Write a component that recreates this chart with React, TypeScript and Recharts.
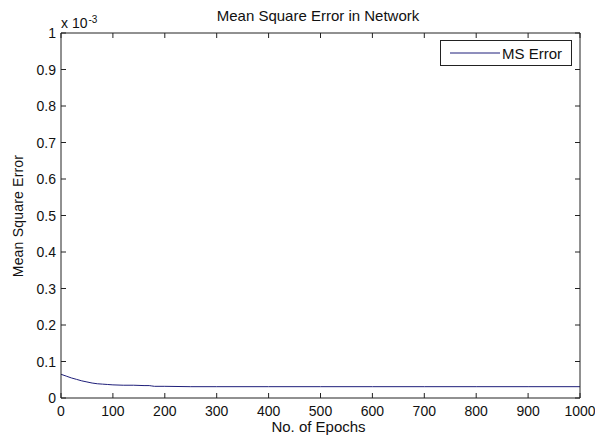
import React from 'react';
import { LineChart, Line, XAxis, YAxis, Legend } from 'recharts';

const epochs = [0, 10, 20, 30, 40, 50, 60, 70, 80, 90, 100, 120, 140, 160, 170, 175, 180, 200, 250, 300, 400, 500, 600, 700, 800, 900, 1000];
const mseValues = [0.065, 0.06, 0.055, 0.051, 0.047, 0.044, 0.041, 0.039, 0.038, 0.037, 0.036, 0.035, 0.035, 0.034, 0.034, 0.033, 0.032, 0.032, 0.031, 0.031, 0.031, 0.031, 0.031, 0.031, 0.031, 0.031, 0.031];
const xTicks = [0, 100, 200, 300, 400, 500, 600, 700, 800, 900, 1000];
const yTicks = [0, 0.1, 0.2, 0.3, 0.4, 0.5, 0.6, 0.7, 0.8, 0.9, 1];
const seriesName = 'MS Error';

const data = epochs.map((e, i) => ({ epoch: e, mse: mseValues[i] }));

const FONT = 'Arial, "Liberation Sans", Helvetica, sans-serif';
const AXIS = '#222';
const LINE = '#1f1f7a';
const TXT = '#111';

const BottomTick = (p: any) => (
  <g>
    <line x1={p.x} y1={p.y} x2={p.x} y2={p.y - 5} stroke={AXIS} />
    <text x={p.x} y={p.y + 18} textAnchor="middle" fontSize={14} fontFamily={FONT} fill={TXT}>
      {p.payload.value}
    </text>
  </g>
);
const TopTick = (p: any) => <line x1={p.x} y1={33} x2={p.x} y2={38} stroke={AXIS} />;
const LeftTick = (p: any) => (
  <g>
    <line x1={p.x} y1={p.y} x2={p.x + 5} y2={p.y} stroke={AXIS} />
    <text x={p.x - 5} y={p.y + 5} textAnchor="end" fontSize={14} fontFamily={FONT} fill={TXT}>
      {p.payload.value}
    </text>
  </g>
);
const RightTick = (p: any) => <line x1={580} y1={p.y} x2={575} y2={p.y} stroke={AXIS} />;

const LegendBox = () => (
  <div
    style={{
      border: '1px solid #222',
      width: 132,
      height: 26,
      background: '#fff',
      display: 'flex',
      alignItems: 'center',
      boxSizing: 'border-box',
      fontFamily: FONT,
      fontSize: 15,
      color: TXT,
    }}
  >
    <svg width={61} height={24} style={{ display: 'block' }}>
      <line x1={9} y1={12} x2={59} y2={12} stroke={LINE} strokeWidth={1} />
    </svg>
    <span style={{ lineHeight: '17px' }}>{seriesName}</span>
  </div>
);

export default function App() {
  return (
    <div style={{ position: 'absolute', left: 0, top: 0, width: 595, height: 439, background: '#fff', fontFamily: FONT }}>
      <LineChart width={595} height={439} data={data} margin={{ top: 32, right: 14, bottom: 0, left: 0 }}>
        <XAxis
          xAxisId="b"
          dataKey="epoch"
          type="number"
          domain={[0, 1000]}
          ticks={xTicks}
          height={41}
          stroke={AXIS}
          tickSize={0}
          tickMargin={0}
          tickLine={false}
          tick={BottomTick}
          interval={0}
        />
        <XAxis
          xAxisId="t"
          dataKey="epoch"
          orientation="top"
          type="number"
          domain={[0, 1000]}
          ticks={xTicks}
          height={1}
          stroke={AXIS}
          tickSize={0}
          tickMargin={0}
          tickLine={false}
          tick={TopTick}
          interval={0}
        />
        <YAxis
          yAxisId="l"
          type="number"
          domain={[0, 1]}
          ticks={yTicks}
          width={61}
          stroke={AXIS}
          tickSize={0}
          tickMargin={0}
          tickLine={false}
          tick={LeftTick}
          interval={0}
        />
        <YAxis
          yAxisId="r"
          orientation="right"
          type="number"
          domain={[0, 1]}
          ticks={yTicks}
          width={1}
          stroke={AXIS}
          tickSize={0}
          tickMargin={0}
          tickLine={false}
          tick={RightTick}
          interval={0}
        />
        <Legend
          layout="horizontal"
          verticalAlign="middle"
          align="center"
          wrapperStyle={{ left: 440, top: 40, width: 133 }}
          content={() => <LegendBox />}
        />
        <Line
          xAxisId="b"
          yAxisId="l"
          type="linear"
          dataKey="mse"
          name={seriesName}
          stroke={LINE}
          strokeWidth={1}
          dot={false}
          isAnimationActive={false}
        />
        <Line
          xAxisId="t"
          yAxisId="r"
          type="linear"
          dataKey="mse"
          stroke="none"
          strokeWidth={0}
          dot={false}
          activeDot={false}
          legendType="none"
          isAnimationActive={false}
        />
      </LineChart>
      <div style={{ position: 'absolute', left: 0, width: 636, top: 7, textAlign: 'center', fontSize: 15, color: TXT, lineHeight: '17px', whiteSpace: 'nowrap' }}>
        Mean Square Error in Network
      </div>
      <div style={{ position: 'absolute', left: 61, top: 11, fontSize: 14, color: TXT, lineHeight: '16px', whiteSpace: 'nowrap' }}>
        x 10<sup style={{ fontSize: 10, position: 'relative', top: 1, marginLeft: 1 }}>-3</sup>
      </div>
      <div style={{ position: 'absolute', left: 0, width: 637, top: 418, textAlign: 'center', fontSize: 15, color: TXT, lineHeight: '17px', whiteSpace: 'nowrap' }}>
        No. of Epochs
      </div>
      <div
        style={{
          position: 'absolute',
          left: 18,
          top: 216,
          transform: 'translate(-50%, -50%) rotate(-90deg)',
          whiteSpace: 'nowrap',
          fontSize: 14,
          letterSpacing: 0.2,
          color: TXT,
          lineHeight: '16px',
        }}
      >
        Mean Square Error
      </div>
    </div>
  );
}
